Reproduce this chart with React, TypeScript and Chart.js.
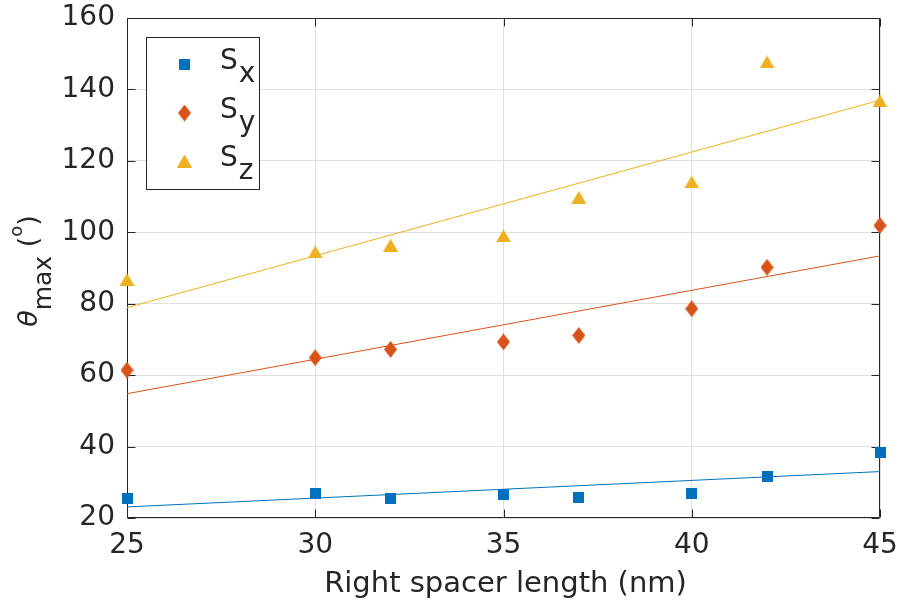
import React, { useEffect, useRef } from 'react';
import { Chart, registerables } from 'chart.js';

Chart.register(...registerables);

// ---- data ----
const xValues = [25, 30, 32, 35, 37, 40, 42, 45];
const sxValues = [25.4, 26.8, 25.4, 26.6, 25.8, 26.8, 31.6, 38.3];
const syValues = [61.4, 64.9, 67.2, 69.3, 71.1, 78.6, 90.2, 101.9];
const szValues = [86.8, 94.5, 96.4, 99.0, 109.8, 114.1, 147.7, 136.8];
const fitX = [25, 45];
const sxFit = [23.1, 33.0];
const syFit = [54.8, 93.4];
const szFit = [78.9, 137.0];
const xTicks = [25, 30, 35, 40, 45];
const yTicks = [20, 40, 60, 80, 100, 120, 140, 160];
const seriesSubs = ['x', 'y', 'z'];
const xTitle = 'Right spacer length (nm)';

const COLORS = ['#0072BD', '#D95319', '#EDB120'];
const AXIS = '#262626';
const GRID = '#dfdfdf';
const FONT = "'DejaVu Sans', sans-serif";

function makeMarker(kind: string, color: string): HTMLCanvasElement {
  const c = document.createElement('canvas');
  let w = 11, h = 11;
  if (kind === 'diamond') { w = 13; h = 17; }
  if (kind === 'triangle') { w = 15; h = 13; }
  c.width = w; c.height = h;
  const g = c.getContext('2d')!;
  g.fillStyle = color;
  g.beginPath();
  if (kind === 'square') {
    g.rect(0, 0, w, h);
  } else if (kind === 'diamond') {
    g.moveTo(w / 2, 0); g.lineTo(w, h / 2); g.lineTo(w / 2, h); g.lineTo(0, h / 2);
  } else {
    g.moveTo(w / 2, 0); g.lineTo(w, h); g.lineTo(0, h);
  }
  g.closePath();
  g.fill();
  return c;
}

const pts = (xs: number[], ys: number[]) => xs.map((x, i) => ({ x, y: ys[i] }));

const zeroPad = (s: any) => {
  s.paddingTop = 0; s.paddingBottom = 0; s.paddingLeft = 0; s.paddingRight = 0;
};

export default function App() {
  const ref = useRef<HTMLCanvasElement | null>(null);

  useEffect(() => {
    document.body.style.margin = '0';
    const markers = [
      makeMarker('square', COLORS[0]),
      makeMarker('diamond', COLORS[1]),
      makeMarker('triangle', COLORS[2]),
    ];

    const framePlugin = {
      id: 'frame',
      beforeDatasetsDraw(chart: any) {
        const { ctx, chartArea: a, scales } = chart;
        const xs = scales.x, ys = scales.y;
        const L = Math.round(a.left) + 0.5, R = Math.round(a.right) - 0.5;
        const T = Math.round(a.top) + 0.5, B = Math.round(a.bottom) - 0.5;
        ctx.save();
        ctx.strokeStyle = AXIS;
        ctx.lineWidth = 1;
        ctx.beginPath();
        ctx.rect(L, T, R - L, B - T);
        const tl = 8;
        xTicks.forEach((v) => {
          const px = Math.round(xs.getPixelForValue(v)) + 0.5;
          ctx.moveTo(px, B); ctx.lineTo(px, B - tl);
          ctx.moveTo(px, T); ctx.lineTo(px, T + tl);
        });
        yTicks.forEach((v) => {
          const py = Math.round(ys.getPixelForValue(v)) + 0.5;
          ctx.moveTo(L, py); ctx.lineTo(L + tl, py);
          ctx.moveTo(R, py); ctx.lineTo(R - tl, py);
        });
        ctx.stroke();
        ctx.restore();
      },
      afterDraw(chart: any) {
        const { ctx, chartArea: a } = chart;
        ctx.save();
        // legend
        const lx = 146.5, ly = 37.5, lw = 113, lh = 152;
        ctx.fillStyle = '#ffffff';
        ctx.fillRect(lx, ly, lw, lh);
        ctx.strokeStyle = AXIS;
        ctx.lineWidth = 1;
        ctx.strokeRect(lx, ly, lw, lh);
        const rows = [64, 113, 161];
        rows.forEach((ry, i) => {
          const m = markers[i];
          ctx.drawImage(m, 184.5 - m.width / 2, ry - m.height / 2);
          ctx.fillStyle = AXIS;
          ctx.textBaseline = 'alphabetic';
          ctx.textAlign = 'left';
          ctx.font = `28px ${FONT}`;
          ctx.fillText('S', 220, ry + 4.5);
          const sw = ctx.measureText('S').width;
          ctx.fillText(seriesSubs[i], 220 + sw + 1, ry + 18);
        });

        // x title
        ctx.fillStyle = AXIS;
        ctx.font = `29px ${FONT}`;
        ctx.textAlign = 'center';
        ctx.textBaseline = 'alphabetic';
        ctx.fillText(xTitle, (a.left + a.right) / 2 + 2, 592);

        // y title: θ_max (°)
        const yc = (a.top + a.bottom) / 2 + 3;
        ctx.translate(37, yc);
        ctx.rotate(-Math.PI / 2);
        ctx.textAlign = 'left';
        const parts = [
          { t: '\u03B8', f: `italic 27px ${FONT}`, dy: 0 },
          { t: 'max', f: `25px ${FONT}`, dy: 13.5 },
          { t: ' (', f: `27px ${FONT}`, dy: 0 },
          { t: 'o', f: `18px ${FONT}`, dy: -15 },
          { t: ')', f: `27px ${FONT}`, dy: 0 },
        ];
        let total = 0;
        const widths = parts.map((p) => { ctx.font = p.f; const w = ctx.measureText(p.t).width; total += w; return w; });
        let cx = -total / 2;
        parts.forEach((p, i) => {
          ctx.font = p.f;
          ctx.fillText(p.t, cx, p.dy);
          cx += widths[i];
        });
        ctx.restore();
      },
    };

    const scatterSet = (label: string, ys: number[], i: number) => ({
      type: 'scatter' as const,
      label,
      data: pts(xValues, ys),
      pointStyle: markers[i],
      pointRadius: 7,
      borderWidth: 0,
      backgroundColor: COLORS[i],
      borderColor: COLORS[i],
      clip: false as any,
    });
    const fitSet = (label: string, ys: number[], i: number) => ({
      type: 'line' as const,
      label,
      data: pts(fitX, ys),
      borderColor: COLORS[i],
      borderWidth: 1,
      pointRadius: 0,
      fill: false,
      tension: 0,
    });

    const chart = new Chart(ref.current!, {
      type: 'scatter',
      data: {
        datasets: [
          scatterSet('Sx', sxValues, 0),
          scatterSet('Sy', syValues, 1),
          scatterSet('Sz', szValues, 2),
          fitSet('Sx fit', sxFit, 0),
          fitSet('Sy fit', syFit, 1),
          fitSet('Sz fit', szFit, 2),
        ] as any,
      },
      options: {
        animation: false,
        responsive: false,
        devicePixelRatio: 1,
        layout: { padding: { top: 18, right: 20, left: 0, bottom: 0 } },
        plugins: { legend: { display: false }, tooltip: { enabled: false } },
        scales: {
          x: {
            type: 'linear',
            min: 25,
            max: 45,
            afterBuildTicks: (s: any) => { s.ticks = xTicks.map((v) => ({ value: v })); },
            afterFit: (s: any) => { s.height = 82; zeroPad(s); },
            grid: { color: GRID, lineWidth: 1, drawTicks: false },
            border: { display: false },
            ticks: { color: AXIS, font: { family: FONT, size: 28 }, padding: 11, maxRotation: 0 },
          },
          y: {
            type: 'linear',
            min: 20,
            max: 160,
            afterBuildTicks: (s: any) => { s.ticks = yTicks.map((v) => ({ value: v })); },
            afterFit: (s: any) => { s.width = 127; zeroPad(s); },
            grid: { color: GRID, lineWidth: 1, drawTicks: false },
            border: { display: false },
            ticks: { color: AXIS, font: { family: FONT, size: 28 }, padding: 12 },
          },
        },
      } as any,
      plugins: [framePlugin],
    });
    return () => chart.destroy();
  }, []);

  return (
    <div style={{ position: 'absolute', left: 0, top: 0, width: 900, height: 600, background: '#fff' }}>
      <canvas ref={ref} width={900} height={600} style={{ width: 900, height: 600, display: 'block' }} />
    </div>
  );
}
